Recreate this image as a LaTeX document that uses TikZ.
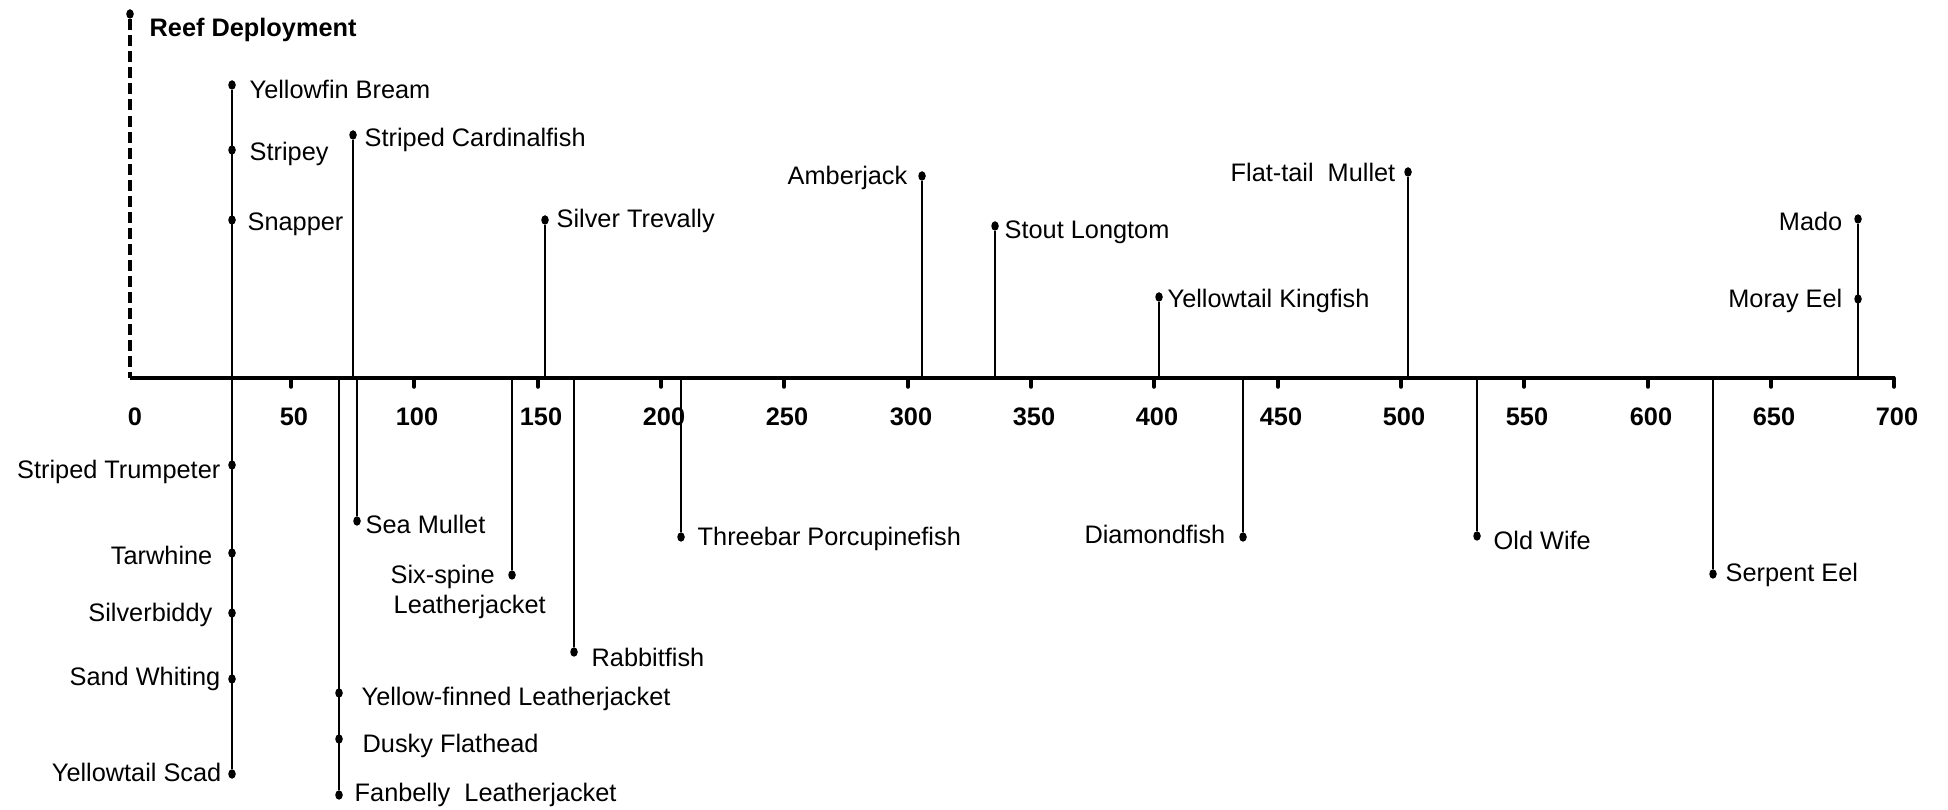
\documentclass[tikz,border=0pt]{standalone}
\usepackage{fontspec}
\setmainfont{Liberation Sans}
\usetikzlibrary{shapes.geometric}

\tikzset{
	dot/.style={ellipse, fill, inner sep=0pt, minimum width=0.75mm, minimum height=0.95mm},
	lbl/.style={inner sep=0pt, text height=5pt, text depth=0pt, font=\fontsize{7.2}{8.5}\selectfont},
	num/.style={lbl, font=\fontsize{7.2}{8.5}\selectfont\bfseries},
	stem/.style={line width=0.4pt},
	tickmark/.style={line width=1pt, line cap=round},
}

\begin{document}
\begin{tikzpicture}[x=0.01cm, y=-0.01cm]
	\useasboundingbox (0,0) rectangle (1948,810);
	\coordinate (axisL) at (130,378);
	\coordinate (axisR) at (1895,378);

	%% reef deployment marker
	\node[dot] (reef) at (130,14) {};
	\draw[line width=1pt, dash pattern=on 1.1mm off 0.5mm] (reef) -- (axisL);
	\node[num, anchor=west] (treef) at (149,28) {Reef Deployment};

	%% axis
	\draw[line width=1pt] (axisL) -- (axisR);
	\node[num] (n0) at (135,417) {0};
	\draw[tickmark] (291,378) -- (291,387);
	\node[num] (n50) at (294,417) {50};
	\draw[tickmark] (414,378) -- (414,387);
	\node[num] (n100) at (417,417) {100};
	\draw[tickmark] (538,378) -- (538,387);
	\node[num] (n150) at (541,417) {150};
	\draw[tickmark] (661,378) -- (661,387);
	\node[num] (n200) at (664,417) {200};
	\draw[tickmark] (784,378) -- (784,387);
	\node[num] (n250) at (787,417) {250};
	\draw[tickmark] (908,378) -- (908,387);
	\node[num] (n300) at (911,417) {300};
	\draw[tickmark] (1031,378) -- (1031,387);
	\node[num] (n350) at (1034,417) {350};
	\draw[tickmark] (1154,378) -- (1154,387);
	\node[num] (n400) at (1157,417) {400};
	\draw[tickmark] (1278,378) -- (1278,387);
	\node[num] (n450) at (1281,417) {450};
	\draw[tickmark] (1401,378) -- (1401,387);
	\node[num] (n500) at (1404,417) {500};
	\draw[tickmark] (1524,378) -- (1524,387);
	\node[num] (n550) at (1527,417) {550};
	\draw[tickmark] (1648,378) -- (1648,387);
	\node[num] (n600) at (1651,417) {600};
	\draw[tickmark] (1771,378) -- (1771,387);
	\node[num] (n650) at (1774,417) {650};
	\draw[tickmark] (1894,378) -- (1894,387);
	\node[num] (n700) at (1897,417) {700};

	%% above the axis
	\node[dot] (bream) at (232,85) {};
	\node[lbl, anchor=west] (tbream) at (249,90) {Yellowfin Bream};
	\node[dot] (stripey) at (232,150) {};
	\node[lbl, anchor=west] (tstripey) at (249,152) {Stripey};
	\node[dot] (snapper) at (232,220) {};
	\node[lbl, anchor=west] (tsnapper) at (247,222) {Snapper};
	\node[dot] (cardinal) at (353,135) {};
	\node[lbl, anchor=west] (tcardinal) at (364,138) {Striped Cardinalfish};
	\node[dot] (trevally) at (545,220) {};
	\node[lbl, anchor=west] (ttrevally) at (556,219) {Silver Trevally};
	\node[dot] (amberjack) at (922,176) {};
	\node[lbl, anchor=east] (tamberjack) at (908,176) {Amberjack};
	\node[dot] (longtom) at (995,226) {};
	\node[lbl, anchor=west] (tlongtom) at (1004,230) {Stout Longtom};
	\node[dot] (kingfish) at (1159,297) {};
	\node[lbl, anchor=west] (tkingfish) at (1167,299) {Yellowtail Kingfish};
	\node[dot] (flattail) at (1408,172) {};
	\node[lbl, anchor=east] (tflattail) at (1396,173) {Flat-tail~~Mullet};
	\node[dot] (mado) at (1858,219) {};
	\node[lbl, anchor=east] (tmado) at (1843,222) {Mado};
	\node[dot] (moray) at (1858,299) {};
	\node[lbl, anchor=east] (tmoray) at (1843,299) {Moray Eel};

	%% below the axis
	\node[dot] (trumpeter) at (232,465) {};
	\node[lbl, anchor=east] (ttrumpeter) at (221,470) {Striped Trumpeter};
	\node[dot] (tarwhine) at (232,553) {};
	\node[lbl, anchor=east] (ttarwhine) at (213,556) {Tarwhine};
	\node[dot] (silverbiddy) at (232,613) {};
	\node[lbl, anchor=east] (tsilverbiddy) at (213,613) {Silverbiddy};
	\node[dot] (whiting) at (232,679) {};
	\node[lbl, anchor=east] (twhiting) at (221,677) {Sand Whiting};
	\node[dot] (scad) at (232,774) {};
	\node[lbl, anchor=east] (tscad) at (222,773) {Yellowtail Scad};
	\node[dot] (yfleather) at (339,693) {};
	\node[lbl, anchor=west] (tyfleather) at (361,697) {Yellow-finned Leatherjacket};
	\node[dot] (dusky) at (339,739) {};
	\node[lbl, anchor=west] (tdusky) at (362,744) {Dusky Flathead};
	\node[dot] (fanbelly) at (339,795) {};
	\node[lbl, anchor=west] (tfanbelly) at (354,793) {Fanbelly~~Leatherjacket};
	\node[dot] (seamullet) at (357,521) {};
	\node[lbl, anchor=west] (tseamullet) at (365,525) {Sea Mullet};
	\node[dot] (sixspine) at (512,575) {};
	\node[lbl, anchor=west] (tsixspine) at (390,575) {Six-spine};
	\node[lbl, anchor=west] (tsixspineb) at (393,605) {Leatherjacket};
	\node[dot] (rabbit) at (574,652) {};
	\node[lbl, anchor=west] (trabbit) at (591,658) {Rabbitfish};
	\node[dot] (threebar) at (681,537) {};
	\node[lbl, anchor=west] (tthreebar) at (697,537) {Threebar Porcupinefish};
	\node[dot] (diamond) at (1243,537) {};
	\node[lbl, anchor=east] (tdiamond) at (1226,535) {Diamondfish};
	\node[dot] (oldwife) at (1477,536) {};
	\node[lbl, anchor=west] (toldwife) at (1493,541) {Old Wife};
	\node[dot] (serpent) at (1713,574) {};
	\node[lbl, anchor=west] (tserpent) at (1725,573) {Serpent Eel};

	%% stems
	\draw[stem] (bream) -- (scad);
	\draw[stem] (cardinal) -- (cardinal |- axisL);
	\draw[stem] (trevally) -- (trevally |- axisL);
	\draw[stem] (amberjack) -- (amberjack |- axisL);
	\draw[stem] (longtom) -- (longtom |- axisL);
	\draw[stem] (kingfish) -- (kingfish |- axisL);
	\draw[stem] (flattail) -- (flattail |- axisL);
	\draw[stem] (mado) -- (mado |- axisL);
	\draw[stem] (fanbelly) -- (fanbelly |- axisL);
	\draw[stem] (seamullet) -- (seamullet |- axisL);
	\draw[stem] (sixspine) -- (sixspine |- axisL);
	\draw[stem] (rabbit) -- (rabbit |- axisL);
	\draw[stem] (threebar) -- (threebar |- axisL);
	\draw[stem] (diamond) -- (diamond |- axisL);
	\draw[stem] (oldwife) -- (oldwife |- axisL);
	\draw[stem] (serpent) -- (serpent |- axisL);
\end{tikzpicture}
\end{document}
